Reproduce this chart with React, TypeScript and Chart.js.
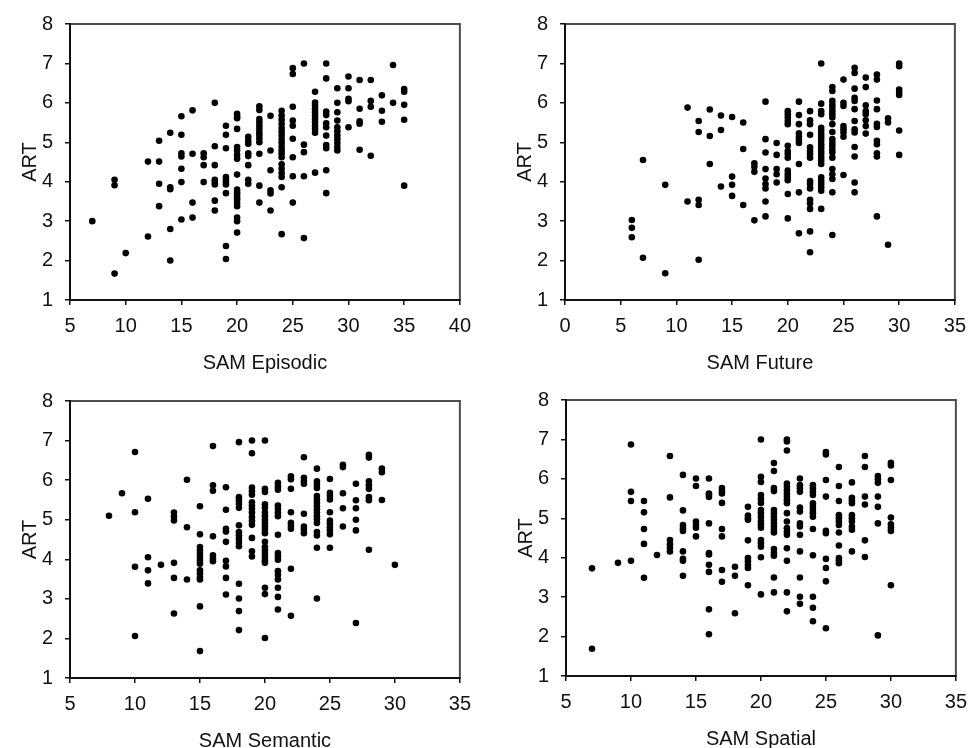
import React, { useEffect, useRef } from 'react';
import { Chart, registerables } from 'chart.js';

Chart.register(...registerables);

// ---------- Data (x = SAM score, each entry = ART values at that score) ----------
const episodicScores = [7, 9, 10, 12, 13, 14, 15, 16, 17, 18, 19, 20, 21, 22, 23, 24, 25, 26, 27, 28, 29, 30, 31, 32, 33, 34, 35];
const episodicART = [
  [3.0],
  [4.05, 3.91, 1.67],
  [2.19],
  [4.51, 2.61],
  [5.04, 4.51, 3.95, 3.38],
  [5.24, 3.86, 3.81, 2.8, 2.0],
  [5.66, 5.19, 4.72, 4.64, 4.33, 3.99, 3.04],
  [5.81, 4.71, 3.47, 3.09],
  [4.72, 4.62, 4.42, 3.99],
  [6.0, 4.9, 4.42, 4.05, 3.99, 3.93, 3.52, 3.27],
  [5.42, 5.19, 4.85, 4.12, 4.05, 3.99, 3.93, 3.71, 2.37, 2.04],
  [5.72, 5.65, 5.61, 5.34, 4.88, 4.79, 4.68, 4.58, 4.18, 3.8, 3.73, 3.67, 3.6, 3.54, 3.46, 3.38, 3.09, 3.0, 2.71],
  [5.14, 5.04, 4.96, 4.72, 4.65, 4.42, 4.05, 3.95],
  [5.91, 5.82, 5.59, 5.51, 5.42, 5.34, 5.25, 5.17, 5.09, 5.0, 4.71, 3.9, 3.47],
  [5.67, 4.79, 4.29, 3.78, 3.7, 3.27],
  [5.8, 5.68, 5.57, 5.47, 5.36, 5.27, 5.17, 5.07, 4.98, 4.88, 4.79, 4.71, 4.62, 4.44, 4.33, 4.22, 4.12, 3.86, 2.67],
  [6.88, 6.73, 5.9, 5.55, 5.42, 5.09, 4.62, 4.14, 3.47],
  [7.0, 4.94, 4.75, 4.14, 2.57],
  [6.28, 6.01, 5.93, 5.84, 5.76, 5.68, 5.59, 5.51, 5.42, 5.34, 5.24, 4.23],
  [7.0, 6.62, 5.78, 5.69, 5.48, 5.38, 5.17, 4.93, 4.85, 4.29, 3.71],
  [6.37, 6.0, 5.76, 5.55, 5.38, 5.28, 5.18, 5.08, 4.98, 4.88, 4.79],
  [6.67, 6.37, 6.1, 6.04, 5.38],
  [6.58, 5.85, 5.53, 5.47, 4.81],
  [6.58, 6.05, 5.9, 4.66],
  [6.19, 5.8, 5.52],
  [6.96, 6.0],
  [6.35, 6.28, 5.95, 5.57, 3.9],
];

const futureScores = [6, 7, 9, 11, 12, 13, 14, 15, 16, 17, 18, 19, 20, 21, 22, 23, 24, 25, 26, 27, 28, 29, 30];
const futureART = [
  [3.03, 2.83, 2.59],
  [4.55, 2.07],
  [3.92, 1.68],
  [5.88, 3.5],
  [5.54, 5.26, 3.54, 3.41, 2.02],
  [5.83, 5.16, 4.45],
  [5.68, 5.31, 3.88],
  [5.64, 4.13, 3.92, 3.64],
  [5.5, 4.83, 3.41],
  [4.47, 4.38, 4.25, 3.02],
  [6.03, 5.08, 4.74, 4.32, 4.08, 3.94, 3.83, 3.5, 3.12],
  [4.98, 4.68, 4.32, 4.19, 3.98],
  [5.79, 5.71, 5.63, 5.54, 5.46, 4.91, 4.78, 4.7, 4.61, 4.28, 4.19, 4.11, 4.04, 3.69, 3.07],
  [6.03, 5.69, 5.46, 5.23, 5.14, 5.06, 4.98, 4.45, 3.73, 2.69],
  [5.79, 5.56, 5.46, 5.19, 4.87, 4.78, 4.7, 4.61, 4.02, 3.94, 3.83, 3.54, 3.45, 3.31, 2.74, 2.21],
  [7.0, 5.98, 5.79, 5.71, 5.37, 5.29, 5.2, 5.12, 5.04, 4.95, 4.87, 4.78, 4.7, 4.61, 4.53, 4.45, 4.11, 4.02, 3.94, 3.86, 3.77, 3.31],
  [6.4, 6.3, 6.05, 5.96, 5.88, 5.79, 5.71, 5.63, 5.46, 5.26, 5.08, 4.99, 4.91, 4.82, 4.74, 4.61, 4.32, 4.19, 4.07, 3.73, 2.65],
  [6.59, 6.0, 5.92, 5.41, 5.33, 5.25, 5.14, 4.17],
  [6.89, 6.76, 6.36, 6.13, 6.05, 5.84, 5.54, 5.33, 5.25, 4.88, 4.64, 3.98, 3.73],
  [6.64, 6.4, 5.94, 5.79, 5.71, 5.56, 5.41, 5.22],
  [6.72, 6.59, 6.06, 5.84, 5.47, 5.39, 5.04, 4.95, 4.72, 4.64, 3.12],
  [5.61, 5.5, 2.4],
  [7.0, 6.93, 6.34, 6.26, 6.2, 5.3, 4.68],
];

const semanticScores = [8, 9, 10, 11, 12, 13, 14, 15, 16, 17, 18, 19, 20, 21, 22, 23, 24, 25, 26, 27, 28, 29, 30];
const semanticART = [
  [5.1],
  [5.67],
  [6.71, 5.19, 3.81, 2.06],
  [5.53, 4.05, 3.72, 3.39],
  [3.86],
  [5.18, 5.08, 4.98, 3.91, 3.53, 2.63],
  [6.01, 4.81, 3.49],
  [5.34, 4.63, 4.31, 4.23, 4.14, 4.06, 3.97, 3.89, 3.72, 3.64, 3.55, 3.49, 2.81, 1.68],
  [6.86, 5.87, 5.73, 4.58, 4.1, 4.02, 3.95],
  [5.82, 5.25, 4.77, 4.7, 4.44, 3.96, 3.82, 3.53, 3.11],
  [6.96, 5.57, 5.49, 5.4, 5.3, 4.86, 4.69, 4.61, 4.52, 4.42, 4.33, 3.38, 3.01, 2.69, 2.21],
  [7.0, 6.68, 5.81, 5.72, 5.63, 5.44, 5.36, 5.28, 5.18, 5.07, 4.97, 4.87, 4.54, 4.2, 4.07],
  [7.0, 5.78, 5.7, 5.39, 5.3, 5.18, 5.09, 5.0, 4.92, 4.83, 4.75, 4.66, 4.44, 4.31, 4.23, 4.14, 4.06, 3.97, 3.91, 3.28, 3.12, 2.01],
  [5.93, 5.84, 5.76, 5.36, 5.28, 5.18, 5.09, 4.62, 4.16, 4.07, 3.99, 3.7, 3.6, 3.49, 3.28, 3.05, 2.73],
  [6.1, 6.02, 5.78, 5.19, 4.92, 4.84, 4.77, 3.76, 2.57],
  [6.58, 6.06, 5.98, 5.91, 5.15, 4.83, 4.75, 4.66],
  [6.29, 5.97, 5.88, 5.8, 5.6, 5.51, 5.43, 5.34, 5.26, 5.18, 5.09, 5.01, 4.92, 4.69, 4.6, 4.29, 3.01],
  [6.03, 5.68, 5.6, 5.51, 5.19, 4.98, 4.9, 4.81, 4.73, 4.63, 4.29],
  [6.39, 6.33, 5.67, 5.29, 4.83],
  [5.91, 5.49, 5.29, 5.0, 4.73, 2.39],
  [6.64, 6.57, 5.97, 5.87, 5.78, 5.57, 5.49, 4.24],
  [6.29, 6.2, 5.5],
  [3.86],
];

const spatialScores = [7, 9, 10, 11, 12, 13, 14, 15, 16, 17, 18, 19, 20, 21, 22, 23, 24, 25, 26, 27, 28, 29, 30];
const spatialART = [
  [3.73, 1.69],
  [3.87],
  [6.87, 5.67, 5.44, 3.92],
  [5.44, 5.15, 4.73, 4.35, 3.49],
  [4.07],
  [6.58, 5.53, 4.45, 4.34, 4.26, 4.16],
  [6.1, 5.2, 4.83, 4.75, 4.68, 4.16, 3.97, 3.92, 3.54],
  [6.01, 5.82, 4.92, 4.83, 4.76, 4.54],
  [6.01, 5.63, 5.59, 5.54, 4.87, 4.12, 4.08, 3.82, 3.64, 2.69, 2.06],
  [5.77, 5.69, 5.63, 5.39, 4.73, 4.54, 3.69, 3.39],
  [3.77, 3.54, 2.59],
  [5.29, 5.07, 5.0, 4.96, 4.44, 3.99, 3.91, 3.82, 3.74, 3.3],
  [7.0, 6.05, 5.92, 5.59, 5.49, 5.39, 5.21, 5.13, 5.03, 4.93, 4.85, 4.76, 4.45, 4.37, 4.28, 4.01, 3.07],
  [6.4, 6.2, 5.77, 5.69, 5.21, 5.13, 5.04, 4.96, 4.87, 4.79, 4.71, 4.64, 4.22, 4.12, 4.05, 3.5, 3.12],
  [7.0, 6.95, 6.72, 5.88, 5.8, 5.71, 5.63, 5.55, 5.46, 5.38, 5.13, 4.92, 4.75, 4.66, 4.58, 4.24, 3.92, 3.12, 2.64],
  [6.01, 5.84, 5.76, 5.67, 5.27, 5.17, 4.87, 4.79, 4.58, 4.16, 3.5, 3.01, 2.83],
  [5.84, 5.76, 5.67, 5.59, 5.38, 5.29, 5.21, 5.13, 5.04, 4.73, 4.06, 3.01, 2.73, 2.39],
  [6.68, 6.62, 5.97, 5.55, 4.68, 4.62, 3.97, 3.74, 3.4, 2.21],
  [6.3, 5.82, 5.44, 5.08, 5.0, 4.92, 4.83, 4.64, 4.31, 3.99, 3.92, 3.86],
  [5.91, 5.52, 5.46, 5.38, 5.08, 5.0, 4.92, 4.79, 4.71, 4.16],
  [6.58, 6.3, 5.55, 5.35, 4.44, 4.02],
  [6.07, 5.99, 5.9, 5.55, 5.29, 4.87, 2.03],
  [6.41, 6.34, 5.97, 5.02, 4.85, 4.76, 4.68, 3.3],
];

const yAxisTitle = 'ART';
const xTitles = ['SAM Episodic', 'SAM Future', 'SAM Semantic', 'SAM Spatial'];
const xRanges: [number, number][] = [[5, 40], [0, 35], [5, 35], [5, 35]];
const yRange: [number, number] = [1, 8];

// ---------- Layout (plot-area boxes in page pixels) ----------
const Y_AXIS_W = 70;
const X_AXIS_H = 75;
const PAD_TOP = 23;
const PAD_RIGHT = 15;
const plotBoxes = [
  { left: 70, top: 23, width: 395, height: 277 },
  { left: 565, top: 23, width: 395, height: 277 },
  { left: 70, top: 400, width: 395, height: 278 },
  { left: 566, top: 399, width: 395, height: 277 },
];

const FONT = "'Liberation Sans', Arial, Helvetica, sans-serif";

const framePlugin = {
  id: 'plotFrame',
  beforeDraw(chart: any) {
    const { ctx, chartArea: a } = chart;
    ctx.save();
    ctx.strokeStyle = '#4d4d4d';
    ctx.lineWidth = 2;
    ctx.strokeRect(a.left, a.top, a.right - a.left, a.bottom - a.top);
    ctx.restore();
  },
};

function toPoints(scores: number[], art: number[][]) {
  const pts: { x: number; y: number }[] = [];
  scores.forEach((s, i) => art[i].forEach((v) => pts.push({ x: s, y: v })));
  return pts;
}

function Panel({ idx, scores, art }: { idx: number; scores: number[]; art: number[][] }) {
  const ref = useRef<HTMLCanvasElement | null>(null);
  const box = plotBoxes[idx];
  const cw = Y_AXIS_W + box.width + PAD_RIGHT;
  const ch = PAD_TOP + box.height + X_AXIS_H;

  useEffect(() => {
    if (!ref.current) return;
    const chart = new Chart(ref.current, {
      type: 'scatter',
      data: {
        datasets: [
          {
            data: toPoints(scores, art),
            backgroundColor: '#000',
            borderWidth: 0,
            pointRadius: 3.3,
            pointHoverRadius: 3.3,
          },
        ],
      },
      plugins: [framePlugin],
      options: {
        responsive: false,
        animation: false,
        devicePixelRatio: 1,
        layout: { padding: { top: PAD_TOP, right: PAD_RIGHT, left: 0, bottom: 0 } },
        plugins: { legend: { display: false }, tooltip: { enabled: false } },
        scales: {
          x: {
            type: 'linear',
            min: xRanges[idx][0],
            max: xRanges[idx][1],
            afterFit: (s: any) => { s.height = X_AXIS_H; },
            border: { display: true, color: '#111', width: 2 },
            grid: { display: true, drawOnChartArea: false, drawTicks: true, tickLength: 5, color: '#111', lineWidth: 1.5 },
            ticks: { stepSize: 5, color: '#111', font: { family: FONT, size: 20 }, padding: 9, maxRotation: 0, autoSkip: false },
            title: { display: true, text: xTitles[idx], color: '#111', font: { family: FONT, size: 20 }, padding: { top: 0, bottom: 0 } },
          },
          y: {
            type: 'linear',
            min: yRange[0],
            max: yRange[1],
            afterFit: (s: any) => { s.width = Y_AXIS_W; },
            border: { display: true, color: '#111', width: 2 },
            grid: { display: true, drawOnChartArea: false, drawTicks: true, tickLength: 5, color: '#111', lineWidth: 1.5 },
            ticks: { stepSize: 1, color: '#111', font: { family: FONT, size: 20 }, padding: 12 },
            title: { display: true, text: yAxisTitle, color: '#111', font: { family: FONT, size: 20 }, padding: { top: 18, bottom: 0 } },
          },
        },
      },
    } as any);
    return () => chart.destroy();
  }, [idx, scores, art]);

  return (
    <canvas
      ref={ref}
      width={cw}
      height={ch}
      style={{ position: 'absolute', left: box.left - Y_AXIS_W, top: box.top - PAD_TOP, width: cw, height: ch }}
    />
  );
}

export default function App() {
  return (
    <div style={{ position: 'absolute', left: 0, top: 0, width: 975, height: 748, overflow: 'hidden', background: '#fff' }}>
      <Panel idx={0} scores={episodicScores} art={episodicART} />
      <Panel idx={1} scores={futureScores} art={futureART} />
      <Panel idx={2} scores={semanticScores} art={semanticART} />
      <Panel idx={3} scores={spatialScores} art={spatialART} />
    </div>
  );
}
